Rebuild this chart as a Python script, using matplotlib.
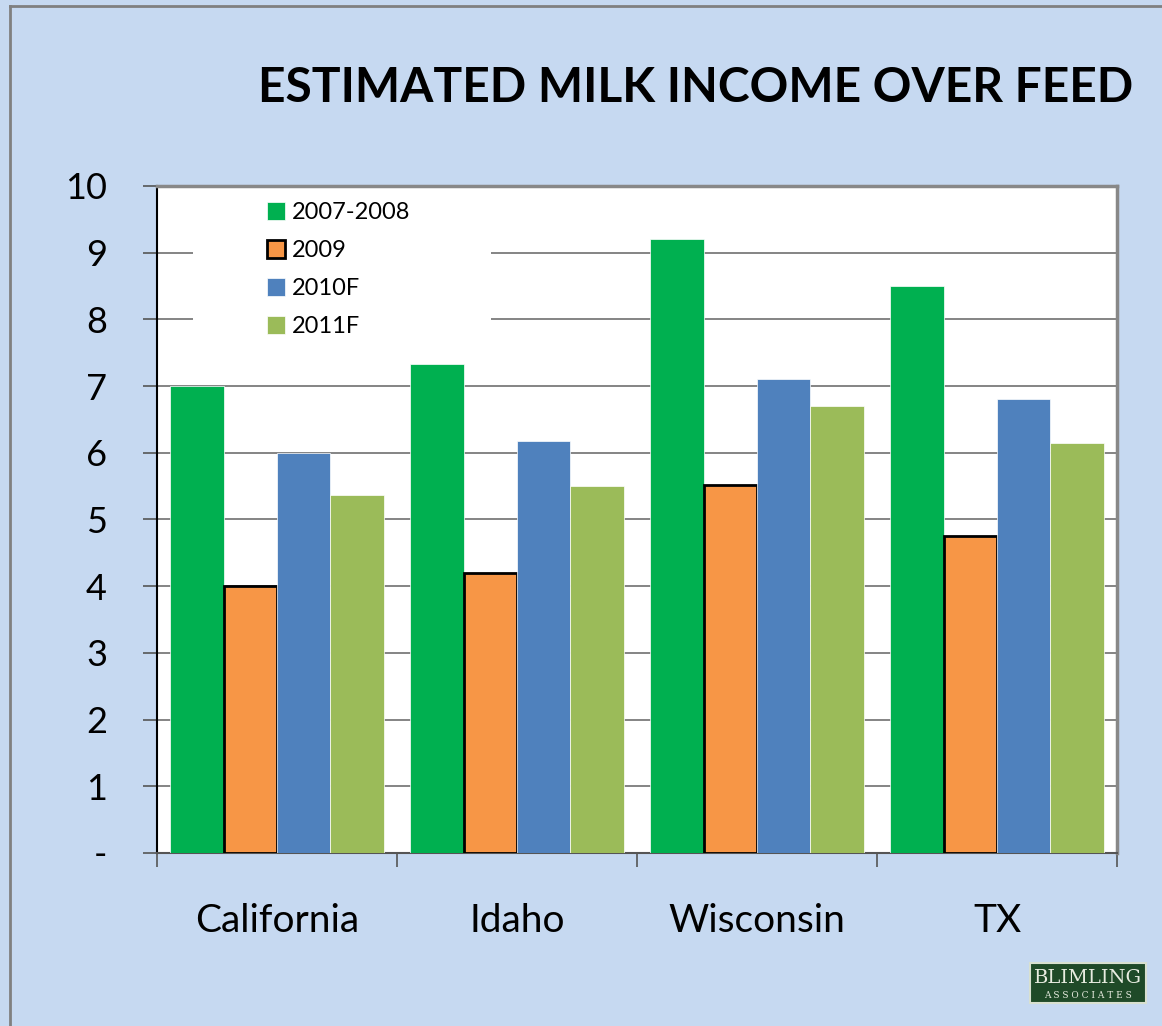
import numpy as np
import matplotlib.pyplot as plt
from matplotlib.patches import Rectangle
from matplotlib.lines import Line2D

# data
states = ['California', 'Idaho', 'Wisconsin', 'TX']
series_names = ['2007-2008', '2009', '2010F', '2011F']
v_2007_08 = [7.0, 7.33, 9.2, 8.5]
v_2009 = [4.0, 4.2, 5.52, 4.75]
v_2010f = [6.0, 6.18, 7.1, 6.8]
v_2011f = [5.37, 5.5, 6.7, 6.15]
y_ticks = [0, 1, 2, 3, 4, 5, 6, 7, 8, 9, 10]
y_tick_labels = ['-', '1', '2', '3', '4', '5', '6', '7', '8', '9', '10']

bg = '#C6D9F1'
colors = ['#00B050', '#F79646', '#4F81BD', '#9BBB59']

plt.rcParams['font.family'] = ['Lato', 'DejaVu Sans']

fig = plt.figure(figsize=(11.62, 10.26), dpi=100, facecolor=bg)
ax = fig.add_axes([157 / 1162, 173 / 1026, 960 / 1162, 667 / 1026])
ax.set_facecolor('white')

x = np.arange(len(states))
w = 0.2225
all_vals = [v_2007_08, v_2009, v_2010f, v_2011f]
for i, (vals, name) in enumerate(zip(all_vals, series_names)):
    if name == '2009':
        ax.bar(x + (i - 1.5) * w, vals, w, color=colors[i], edgecolor='black',
               linewidth=2, label=name, zorder=3)
    else:
        ax.bar(x + (i - 1.5) * w, vals, w, color=colors[i], edgecolor='white',
               linewidth=0.5, label=name, zorder=3)

ax.set_xlim(-0.5, 3.5)
ax.set_ylim(0, 10)
ax.set_yticks(y_ticks)
ax.set_yticklabels(y_tick_labels, fontsize=26)
ax.yaxis.grid(True, color='#6f6f6f', linewidth=1.2, zorder=0)
ax.set_axisbelow(True)

ax.set_xticks(x)
ax.set_xticklabels(states, fontsize=28)
ax.tick_params(axis='x', which='major', length=0, pad=36)
ax.set_xticks(np.arange(-0.5, 4, 1), minor=True)
ax.tick_params(axis='x', which='minor', length=10, color='#555555', width=1.2)
ax.tick_params(axis='y', length=10, color='#555555', width=1.2, pad=26)

ax.spines['left'].set_color('black')
ax.spines['left'].set_linewidth(1.5)
ax.spines['bottom'].set_color('#555555')
ax.spines['bottom'].set_linewidth(1.5)
ax.spines['top'].set_color('#888888')
ax.spines['top'].set_linewidth(2.5)
ax.spines['right'].set_color('#888888')
ax.spines['right'].set_linewidth(2.5)

# white box behind legend hides the gridlines
ax.add_patch(Rectangle((0.0375, 0.76), 0.31, 0.235, transform=ax.transAxes,
                       facecolor='white', edgecolor='none', zorder=1))
leg = ax.legend(loc='upper left', bbox_to_anchor=(0.105, 0.99), frameon=False,
                fontsize=17, handlelength=0.75, handleheight=0.75,
                handletextpad=0.3, labelspacing=0.72, borderaxespad=0)

fig.text(258 / 1162, 1 - 102 / 1026, 'ESTIMATED MILK INCOME OVER FEED',
         fontsize=34.5, fontweight='bold', va='baseline', ha='left')

# slide border
fig.add_artist(Line2D([10 / 1162, 1], [1 - 6 / 1026, 1 - 6 / 1026],
                      transform=fig.transFigure, color='#808080', linewidth=2))
fig.add_artist(Line2D([10 / 1162, 10 / 1162], [0, 1 - 6 / 1026],
                      transform=fig.transFigure, color='#808080', linewidth=2))

# logo
fig.add_artist(Rectangle((1030 / 1162, 1 - 1003 / 1026), 116 / 1162, 40 / 1026,
                         transform=fig.transFigure, facecolor='#1F4A28',
                         edgecolor='#d8e0d0', linewidth=1.5))
fig.text(1088 / 1162, 1 - 978 / 1026, 'BLIMLING', family='DejaVu Serif',
         fontsize=14, color='#e8ece0', ha='center', va='center')
fig.text(1088 / 1162, 1 - 995 / 1026, 'A S S O C I A T E S', family='DejaVu Serif',
         fontsize=6.5, color='#e8ece0', ha='center', va='center')

fig.savefig('out.png', dpi=100, facecolor=bg)
